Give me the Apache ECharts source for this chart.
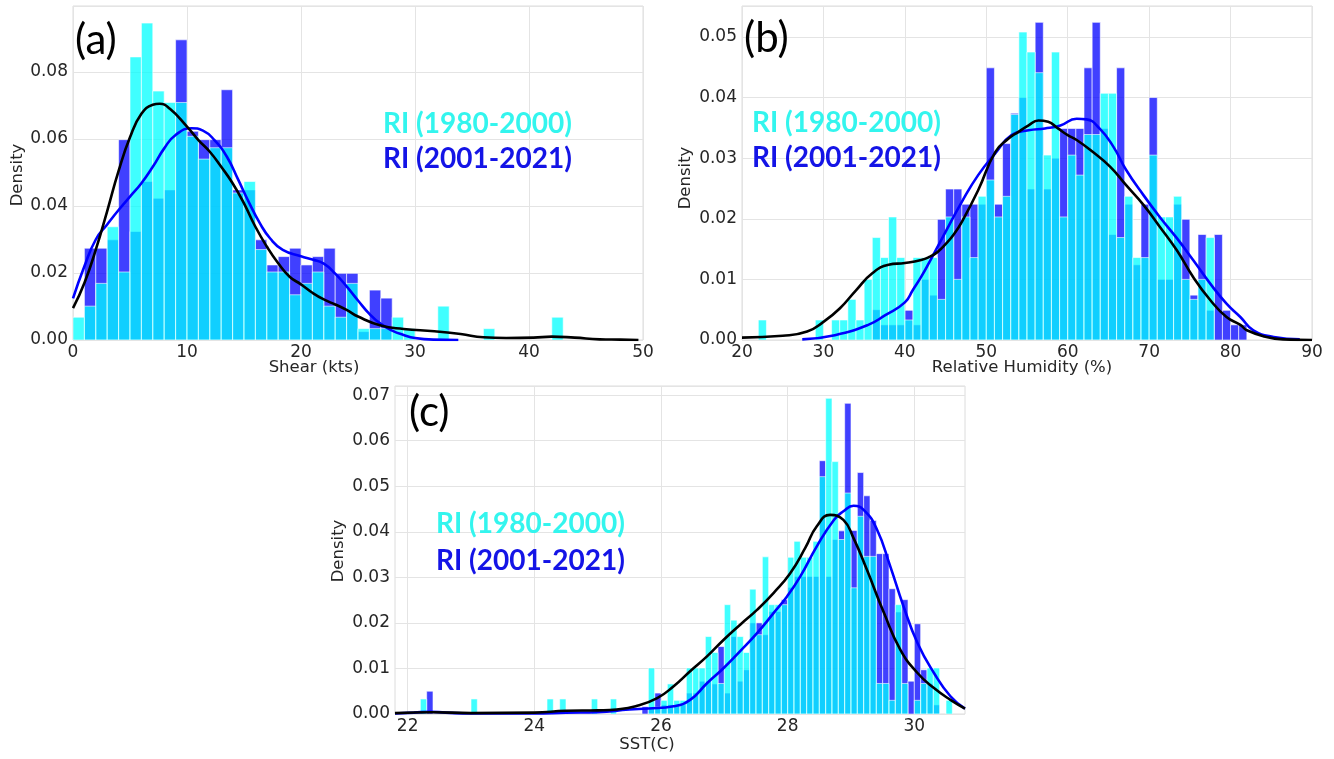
<!DOCTYPE html>
<html lang="en">
  <head>
    <meta charset="UTF-8" />
    <title>RI environment histograms</title>
    <script src="https://cdn.jsdelivr.net/npm/echarts@6/dist/echarts.min.js"></script>
    <style>
      html, body { margin: 0; padding: 0; background: #fff; }
    </style>
  </head>
  <body>
    <div id="main" style="width: 1334px; height: 759px"></div>
    <script type="text/javascript">
      // ---- (a) shear, 1 kt bins (left edges) ----
      const shearBins = [0,1,2,3,4,5,6,7,8,9,10,11,12,13,14,15,16,17,18,19,20,21,22,23,24,25,26,27,28,29,30,31,32,33,34,35,36,37,38,39,40,41,42];
      const shearEarly = [0.0068,0.0101,0.0169,0.0338,0.0203,0.0845,0.0946,0.0743,0.0709,0.0709,0.0608,0.054,0.0574,0.0574,0.0439,0.0473,0.027,0.0203,0.0203,0.0135,0.0169,0.0203,0.0101,0.0068,0.0169,0.0034,0.0034,0.0034,0.0068,0.0034,0,0,0.0101,0,0,0,0.0034,0,0,0,0,0,0.0068];
      const shearLate = [0,0.0274,0.0274,0.0299,0.0598,0.0324,0.0473,0.0423,0.0448,0.0896,0.0623,0.0598,0.0598,0.0747,0.0448,0.0448,0.0299,0.0224,0.0249,0.0274,0.0224,0.0249,0.0274,0.0199,0.0199,0.0025,0.0149,0.0125,0,0,0,0,0,0,0,0,0,0,0,0,0,0,0];
      const shearKdeEarlyX = [0,1,2,3,4,5,6,7,7.6,8.5,10,11,12,13,14,15,16,17,18,19,20,21,22,23,24,25,27,29,31.7,34,36,38,40.4,42,44,46.2,48,49.6];
      const shearKdeEarlyY = [0.0095,0.017,0.027,0.0385,0.0505,0.0605,0.0675,0.0702,0.0705,0.069,0.0637,0.0597,0.0562,0.0517,0.0468,0.0408,0.0338,0.0279,0.0229,0.0189,0.0166,0.0141,0.0121,0.0106,0.009,0.007,0.0043,0.0033,0.0026,0.0018,0.0008,0.0006,0.0007,0.001,0.0007,0.0002,0.0001,0];
      const shearKdeLateX = [0,1,2,3,4,5,6,7,8,9,10.4,11.4,12.4,13.5,14.5,15.4,16.4,17.3,18.4,20,21,22,23,24,25,26,27,28,29,30,31.6,33.8];
      const shearKdeLateY = [0.0124,0.022,0.03,0.0345,0.0388,0.0428,0.0468,0.0517,0.0572,0.0612,0.0632,0.0625,0.0597,0.0547,0.0478,0.0413,0.0348,0.0303,0.0269,0.025,0.024,0.0228,0.0198,0.016,0.0118,0.0078,0.0048,0.0028,0.0015,0.0006,0.0001,0];

      // ---- (b) relative humidity, 1 % bins ----
      const rhBins = [20,21,22,23,24,25,26,27,28,29,30,31,32,33,34,35,36,37,38,39,40,41,42,43,44,45,46,47,48,49,50,51,52,53,54,55,56,57,58,59,60,61,62,63,64,65,66,67,68,69,70,71,72,73,74,75,76,77,78,79,80,81];
      const rhEarly = [0,0,0.0033,0,0,0,0,0,0,0.0033,0,0.0033,0.0033,0.0067,0.0033,0.01,0.0169,0.0136,0.0203,0.0136,0.0033,0.0136,0.0136,0.0136,0.0067,0.0203,0.01,0.0203,0.0136,0.0237,0.0264,0.0203,0.0237,0.0372,0.0508,0.0475,0.0441,0.0305,0.0475,0.0203,0.0305,0.0272,0.0339,0.0339,0.0407,0.0407,0.0169,0.0237,0.0136,0.0136,0.0305,0.0203,0.0203,0.0237,0.01,0.0067,0.01,0.0169,0,0,0,0];
      const rhLate = [0,0,0,0,0,0,0,0,0,0,0,0,0,0,0,0,0.005,0.0025,0.0025,0.0025,0.0049,0.0025,0.01,0.0074,0.0199,0.0249,0.0249,0.0224,0.0224,0.0224,0.0449,0.0224,0.0324,0.0374,0.04,0.0249,0.0524,0.0249,0.03,0.0349,0.0349,0.0349,0.0449,0.0524,0.0349,0.0174,0.0449,0.0224,0.0124,0.0224,0.04,0.01,0.01,0.0224,0.0199,0.0074,0.0174,0.0049,0.0174,0.0049,0.0025,0.0025];
      const rhKdeEarlyX = [20,25,28,30,32,34,36,38,40,42,43,44,45,46,47,49,51.1,52.7,53.9,55.2,56.4,57.6,58.8,60,61.1,63.1,65.2,67.2,69.3,71.3,73.4,75.4,77.5,79.5,81.2,82,84.4,86.5,90];
      const rhKdeEarlyY = [0.0004,0.0007,0.0014,0.003,0.0052,0.0082,0.011,0.0124,0.0127,0.0132,0.0137,0.0145,0.0158,0.0174,0.0195,0.0247,0.031,0.0332,0.0343,0.0354,0.0362,0.036,0.0349,0.0338,0.033,0.031,0.0286,0.0255,0.0223,0.0187,0.0148,0.0104,0.0066,0.0038,0.0025,0.0016,0.0005,0.0001,0];
      const rhKdeLateX = [27.4,31.4,35.5,37.6,40,41,42,43,44.9,47,49,51.1,53.1,55.2,57.2,59.1,61.1,62.3,63.9,65.6,67.2,69.3,71.3,73.4,75.4,77.5,79.5,81.2,82.8,85.3,88.5];
      const rhKdeLateY = [0.0001,0.0008,0.0025,0.0041,0.0062,0.0083,0.0104,0.0128,0.0176,0.0228,0.0272,0.0308,0.0338,0.0346,0.0349,0.0354,0.0365,0.0364,0.0349,0.0319,0.028,0.0239,0.0203,0.0168,0.0132,0.0093,0.006,0.0038,0.0016,0.0005,0.0001];

      // ---- (c) SST, 0.1 C bins ----
      const sstBins = [22.2,22.3,23.0,24.2,24.4,24.9,25.2,25.7,25.8,25.9,26.0,26.1,26.2,26.3,26.4,26.5,26.6,26.7,26.8,26.9,27.0,27.1,27.2,27.3,27.4,27.5,27.6,27.7,27.8,27.9,28.0,28.1,28.2,28.3,28.4,28.5,28.6,28.7,28.8,28.9,29.0,29.1,29.2,29.3,29.4,29.5,29.6,29.7,29.8,29.9,30.0,30.1,30.2,30.3,30.5];
      const sstEarly = [0.0033,0,0.0033,0.0033,0.0033,0.0033,0.0033,0,0.0101,0.0015,0.003,0.0066,0.003,0.003,0.0101,0.0101,0.0101,0.017,0.0135,0.0067,0.024,0.0206,0.017,0.0135,0.0274,0.0174,0.0345,0.024,0.024,0.024,0.0344,0.0379,0.0344,0.0344,0.0379,0.0521,0.0693,0.0554,0.0383,0.0485,0.0277,0.0434,0.0346,0.0346,0.0067,0.0067,0.003,0.024,0.0067,0,0.003,0.0067,0.0101,0.0101,0.003];
      const sstLate = [0,0.005,0,0,0,0,0,0.0016,0.0013,0.0046,0.002,0.002,0.002,0.002,0.0046,0.0046,0.0072,0.0072,0.0066,0.0148,0.0046,0.017,0.0072,0.0097,0.02,0.02,0.0174,0.0225,0.0225,0.0251,0.0278,0.0302,0.0302,0.0302,0.0302,0.0556,0.0302,0.0383,0.0402,0.0682,0.0403,0.053,0.0479,0.0425,0.0352,0.0352,0.0275,0.0224,0.0251,0.0072,0.0198,0.0097,0.0067,0.002,0];
      const sstKdeEarlyX = [21.8,22.4,23,24,24.5,25,25.3,25.6,25.94,26.2,26.46,26.73,26.99,27.25,27.52,27.78,28.04,28.28,28.46,28.67,28.88,29.04,29.25,29.52,29.78,30.05,30.31,30.57,30.8];
      const sstKdeEarlyY = [0.0002,0.0004,0.0002,0.0003,0.0007,0.0008,0.001,0.0017,0.0035,0.0061,0.0094,0.0127,0.0163,0.0196,0.0229,0.0266,0.0309,0.0365,0.0412,0.0437,0.0426,0.0386,0.0317,0.0222,0.0141,0.009,0.0057,0.0031,0.0012];
      const sstKdeLateX = [21.8,22.1,22.35,22.6,23,24,24.5,25,25.5,25.8,26.2,26.46,26.73,26.99,27.25,27.52,27.78,27.99,28.2,28.46,28.73,28.88,29.04,29.2,29.41,29.62,29.83,30.05,30.31,30.57,30.8];
      const sstKdeLateY = [0.0001,0.0003,0.0005,0.0003,0.0001,0.0001,0.0003,0.0004,0.001,0.0012,0.0017,0.0031,0.0068,0.0101,0.0138,0.0178,0.0222,0.0258,0.0302,0.0368,0.0426,0.0445,0.0457,0.0448,0.0405,0.0324,0.0236,0.0156,0.009,0.0039,0.0012];

      const CYAN = "rgba(0,255,255,0.75)";
      const BLUE = "rgba(0,0,255,0.75)";
      const TXT = "#262626";
      const FONT = "DejaVu Sans";

      const pairs = (xs, ys) => xs.map((x, i) => [x, ys[i]]);
      const bars = (edges, w, hs) => edges.map((x, i) => [x, +(x + w).toFixed(2), hs[i]]);

      function histSeries(idx, data, color) {
        return {
          type: "custom",
          xAxisIndex: idx,
          yAxisIndex: idx,
          silent: true,
          clip: true,
          encode: { x: [0, 1], y: 2 },
          data: data,
          renderItem: function (params, api) {
            const h = api.value(2);
            if (!h) return;
            const p0 = api.coord([api.value(0), h]);
            const p1 = api.coord([api.value(1), 0]);
            return {
              type: "rect",
              shape: { x: p0[0], y: p0[1], width: p1[0] - p0[0], height: p1[1] - p0[1] },
              style: { fill: color, stroke: "#ffffff", lineWidth: 0.6 },
            };
          },
        };
      }

      // kde curves, drawn above the bars
      function kdeSeries(idx, data, color) {
        return {
          type: "line",
          xAxisIndex: idx,
          yAxisIndex: idx,
          data: data,
          showSymbol: false,
          symbol: "none",
          smooth: 0.5,
          silent: true,
          z: 3,
          lineStyle: { color: color, width: 2.6 },
        };
      }

      const grids = [
        { left: 73, top: 6, width: 570, height: 334 },
        { left: 742, top: 6, width: 570, height: 334 },
        { left: 395, top: 386, width: 570, height: 328 },
      ].map((g) => Object.assign(g, { show: true, borderColor: "#dcdcdc", borderWidth: 1, containLabel: false }));

      function xAxis(idx, min, max, interval, custom) {
        const ax = {
          type: "value",
          gridIndex: idx,
          min: min,
          max: max,
          axisLine: { show: false },
          axisTick: { show: false },
          splitLine: { show: true, lineStyle: { color: "#e4e4e4", width: 1 } },
          axisLabel: { color: TXT, fontFamily: FONT, fontSize: 17, margin: 4 },
        };
        if (custom) {
          ax.axisTick.customValues = custom;
          ax.axisLabel.customValues = custom;
        } else {
          ax.interval = interval;
        }
        return ax;
      }

      function yAxis(idx, max, interval) {
        return {
          type: "value",
          gridIndex: idx,
          min: 0,
          max: max,
          interval: interval,
          axisLine: { show: false },
          axisTick: { show: false },
          splitLine: { show: true, lineStyle: { color: "#e4e4e4", width: 1 } },
          axisLabel: {
            color: TXT, fontFamily: FONT, fontSize: 17, margin: 5,
            showMaxLabel: false,
            formatter: (v) => v.toFixed(2),
          },
        };
      }

      function txt(x, y, s, opts) {
        return {
          type: "text",
          x: x,
          y: y,
          z: 100,
          rotation: opts.rotation || 0,
          silent: true,
          style: Object.assign({ text: s, fill: TXT, font: "16.5px 'DejaVu Sans'", textAlign: "left", textVerticalAlign: "middle" }, opts.style || {}),
        };
      }

      const legendFont = "bold 28px Lato";
      const panelFont = "42px Lato";

      const graphics = [
        // panel letters
        txt(75, 40, "(a)", { style: { font: panelFont, fill: "#000" } }),
        txt(744, 38, "(b)", { style: { font: panelFont, fill: "#000" } }),
        txt(409, 412, "(c)", { style: { font: panelFont, fill: "#000" } }),
        // legends
        txt(383, 124, "RI (1980-2000)", { style: { font: legendFont, fill: "#33F5EE" } }),
        txt(383, 159, "RI (2001-2021)", { style: { font: legendFont, fill: "#1414E6" } }),
        txt(752, 123, "RI (1980-2000)", { style: { font: legendFont, fill: "#33F5EE" } }),
        txt(752, 158, "RI (2001-2021)", { style: { font: legendFont, fill: "#1414E6" } }),
        txt(436, 524, "RI (1980-2000)", { style: { font: legendFont, fill: "#33F5EE" } }),
        txt(436, 561, "RI (2001-2021)", { style: { font: legendFont, fill: "#1414E6" } }),
        // axis titles
        txt(314, 368, "Shear (kts)", { style: { textAlign: "center" } }),
        txt(1022, 368, "Relative Humidity (%)", { style: { textAlign: "center" } }),
        txt(647, 745, "SST(C)", { style: { textAlign: "center" } }),
        txt(18, 175, "Density", { rotation: Math.PI / 2, style: { textAlign: "center" } }),
        txt(686, 178, "Density", { rotation: Math.PI / 2, style: { textAlign: "center" } }),
        txt(339, 551, "Density", { rotation: Math.PI / 2, style: { textAlign: "center" } }),
      ];

      const options = {
        animation: false,
        backgroundColor: "#ffffff",
        grid: grids,
        xAxis: [
          xAxis(0, 0, 50, 10),
          xAxis(1, 20, 90, 10),
          xAxis(2, 21.8, 30.8, null, [22, 24, 26, 28, 30]),
        ],
        yAxis: [yAxis(0, 0.0997, 0.02), yAxis(1, 0.0551, 0.01), yAxis(2, 0.072, 0.01)],
        series: [
          histSeries(0, bars(shearBins, 1, shearLate), BLUE),
          histSeries(0, bars(shearBins, 1, shearEarly), CYAN),
          kdeSeries(0, pairs(shearKdeLateX, shearKdeLateY), "#0000ff"),
          kdeSeries(0, pairs(shearKdeEarlyX, shearKdeEarlyY), "#000000"),

          histSeries(1, bars(rhBins, 1, rhLate), BLUE),
          histSeries(1, bars(rhBins, 1, rhEarly), CYAN),
          kdeSeries(1, pairs(rhKdeLateX, rhKdeLateY), "#0000ff"),
          kdeSeries(1, pairs(rhKdeEarlyX, rhKdeEarlyY), "#000000"),

          histSeries(2, bars(sstBins, 0.1, sstLate), BLUE),
          histSeries(2, bars(sstBins, 0.1, sstEarly), CYAN),
          kdeSeries(2, pairs(sstKdeLateX, sstKdeLateY), "#0000ff"),
          kdeSeries(2, pairs(sstKdeEarlyX, sstKdeEarlyY), "#000000"),
        ],
        graphic: graphics,
      };

      let myChart = echarts.init(document.getElementById("main"));
      myChart.setOption(options);
    </script>
  </body>
</html>
